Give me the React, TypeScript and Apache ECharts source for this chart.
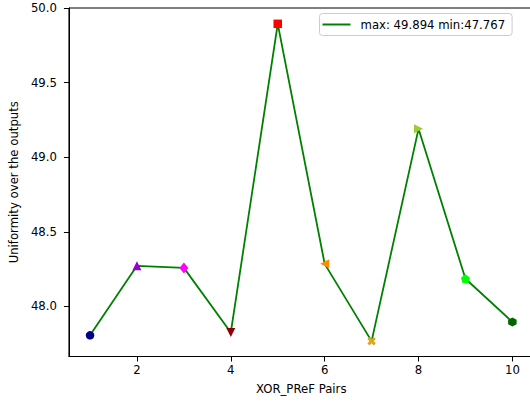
import React, { useEffect, useRef } from "react";
import * as echarts from "echarts";

const pairs = [1, 2, 3, 4, 5, 6, 7, 8, 9, 10];
const uniformity = [47.806, 48.272, 48.258, 47.825, 49.894, 48.285, 47.767, 49.19, 48.185, 47.895];
const xTicks = [2, 4, 6, 8, 10];
const yTicks = [48.0, 48.5, 49.0, 49.5, 50.0];
const legendLabel = "max: 49.894 min:47.767";

const markerColors = ["#00008B", "#9400D3", "#FF00FF", "#8B0000", "#FF0000", "#FF8C00", "#DAA520", "#9ACD32", "#00FF00", "#006400"];
const X_PATH = "path://M0,2 L2,0 L4,2 L6,0 L8,2 L6,4 L8,6 L6,8 L4,6 L2,8 L0,6 L2,4 Z";
const PENT_PATH = "path://M50,0 L97.6,34.5 L79.4,90.5 L20.6,90.5 L2.4,34.5 Z";
const HEX_PATH = "path://M50,0 L93.3,25 L93.3,75 L50,100 L6.7,75 L6.7,25 Z";
const markerShapes: { symbol: string; size: number | number[]; rotate: number }[] = [
  { symbol: "circle", size: 8.5, rotate: 0 },
  { symbol: "triangle", size: 9, rotate: 0 },
  { symbol: "diamond", size: [9, 11], rotate: 0 },
  { symbol: "triangle", size: 9, rotate: 180 },
  { symbol: "rect", size: 8.5, rotate: 0 },
  { symbol: "triangle", size: 9, rotate: 90 },
  { symbol: X_PATH, size: 8.5, rotate: 0 },
  { symbol: "triangle", size: 9, rotate: -90 },
  { symbol: PENT_PATH, size: 9, rotate: 0 },
  { symbol: HEX_PATH, size: [8.5, 9], rotate: 0 },
];

const FONT = "DejaVu Sans";
const FS = 11.7;

export default function App() {
  const ref = useRef<HTMLDivElement>(null);
  useEffect(() => {
    if (!ref.current) return;
    const chart = echarts.init(ref.current, undefined, { renderer: "svg" });
    const data = pairs.map((x, i) => ({
      value: [x, uniformity[i]],
      symbol: markerShapes[i].symbol,
      symbolSize: markerShapes[i].size,
      symbolRotate: markerShapes[i].rotate,
      itemStyle: { color: markerColors[i], borderWidth: 0 },
    }));
    chart.setOption({
      animation: false,
      backgroundColor: "#ffffff",
      textStyle: { fontFamily: FONT },
      grid: {
        left: 67.5,
        top: 8,
        right: 540 - 533.5,
        bottom: 402 - 356.5,
        show: true,
        borderColor: "#000",
        borderWidth: 1,
        backgroundColor: "transparent",
      },
      legend: {
        left: 319.5,
        top: 13.5,
        data: [{ name: legendLabel, icon: "rect" }],
        itemWidth: 28,
        itemHeight: 2,
        itemStyle: { color: "#008000" },
        padding: [5, 7, 5, 3],
        backgroundColor: "rgba(255,255,255,0.8)",
        borderColor: "#cccccc",
        borderWidth: 1,
        borderRadius: 3,
        textStyle: { fontFamily: FONT, fontSize: FS, color: "#000", padding: [0, 0, 0, 5] },
      },
      xAxis: {
        type: "value",
        min: 0.55,
        max: 10.45,
        name: "XOR_PReF Pairs",
        nameLocation: "middle",
        nameGap: 26,
        nameTextStyle: { fontFamily: FONT, fontSize: FS, color: "#000" },
        axisLine: { show: true, onZero: false, lineStyle: { color: "#000", width: 1 } },
        axisTick: { show: true, length: 5, lineStyle: { color: "#000" }, customValues: xTicks },
        axisLabel: {
          margin: 7,
          fontFamily: FONT,
          fontSize: FS,
          color: "#000",
          customValues: xTicks,
          formatter: (v: number) => String(v),
        },
        splitLine: { show: false },
      },
      yAxis: {
        type: "value",
        min: 47.664,
        max: 50.0,
        name: "Uniformity over the outputs",
        nameLocation: "middle",
        nameGap: 46,
        nameTextStyle: { fontFamily: FONT, fontSize: FS, color: "#000" },
        axisLine: { show: true, onZero: false, lineStyle: { color: "#000", width: 1 } },
        axisTick: { show: true, length: 5, lineStyle: { color: "#000" }, customValues: yTicks },
        axisLabel: {
          margin: 12,
          fontFamily: FONT,
          fontSize: FS,
          color: "#000",
          customValues: yTicks,
          formatter: (v: number) => v.toFixed(1),
        },
        splitLine: { show: false },
      },
      series: [
        {
          name: legendLabel,
          type: "line",
          data,
          color: "#008000",
          lineStyle: { color: "#008000", width: 1.8 },
          showAllSymbol: true,
          z: 3,
        },
      ],
    });
    return () => chart.dispose();
  }, []);
  return (
    <div style={{ position: "fixed", left: 0, top: 0, width: 530, height: 402, overflow: "hidden", background: "#fff" }}>
      <div ref={ref} style={{ width: 540, height: 402 }} />
    </div>
  );
}
